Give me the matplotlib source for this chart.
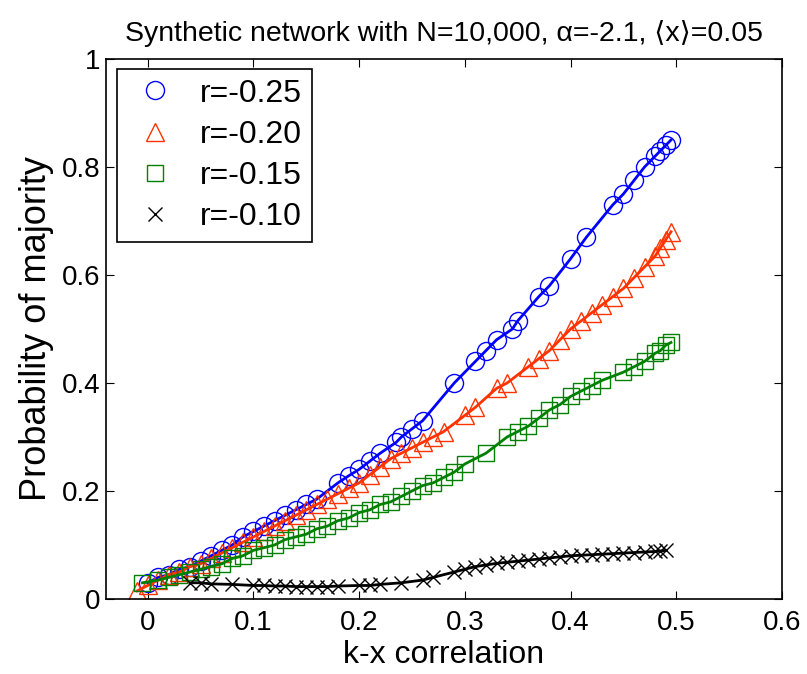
import numpy as np
from matplotlib import pyplot as plt

plt.rcParams['font.family'] = ['Liberation Sans', 'DejaVu Sans']

# r = -0.25
blue_x = [0.0, 0.01, 0.02, 0.03, 0.04, 0.05, 0.06, 0.07, 0.08, 0.09, 0.10, 0.11, 0.12, 0.13,
          0.14, 0.15, 0.16, 0.18, 0.19, 0.20, 0.21, 0.22, 0.235, 0.24, 0.25, 0.26, 0.29, 0.31,
          0.32, 0.33, 0.345, 0.35, 0.37, 0.38, 0.40, 0.415, 0.44, 0.45, 0.46, 0.47, 0.48,
          0.485, 0.49, 0.495]
blue_y = [0.03, 0.04, 0.045, 0.055, 0.06, 0.07, 0.08, 0.09, 0.10, 0.115, 0.125, 0.135, 0.145,
          0.155, 0.165, 0.175, 0.185, 0.215, 0.228, 0.24, 0.255, 0.27, 0.29, 0.30, 0.315, 0.33,
          0.40, 0.44, 0.46, 0.48, 0.50, 0.515, 0.56, 0.58, 0.63, 0.67, 0.73, 0.75, 0.775, 0.80,
          0.82, 0.83, 0.84, 0.85]

# r = -0.20
red_x = [-0.01, 0.0, 0.01, 0.02, 0.03, 0.04, 0.05, 0.06, 0.07, 0.08, 0.09, 0.10, 0.11, 0.12,
         0.13, 0.14, 0.15, 0.16, 0.17, 0.18, 0.19, 0.2, 0.21, 0.22, 0.23, 0.24, 0.25, 0.26,
         0.27, 0.28, 0.30, 0.31, 0.33, 0.34, 0.36, 0.37, 0.38, 0.39, 0.40, 0.41, 0.42, 0.43,
         0.44, 0.45, 0.46, 0.47, 0.48, 0.485, 0.49, 0.495]
red_y = [0.015, 0.025, 0.035, 0.045, 0.05, 0.06, 0.065, 0.075, 0.085, 0.095, 0.105, 0.115,
         0.125, 0.135, 0.145, 0.155, 0.165, 0.175, 0.185, 0.195, 0.205, 0.215, 0.23, 0.245,
         0.26, 0.27, 0.28, 0.29, 0.30, 0.31, 0.34, 0.355, 0.39, 0.40, 0.43, 0.445, 0.46, 0.48,
         0.50, 0.515, 0.53, 0.545, 0.56, 0.575, 0.595, 0.615, 0.635, 0.65, 0.665, 0.68]

# r = -0.15
green_x = [-0.005, 0.01, 0.02, 0.03, 0.04, 0.05, 0.06, 0.07, 0.08, 0.09, 0.10, 0.11, 0.12,
           0.13, 0.14, 0.15, 0.16, 0.17, 0.18, 0.19, 0.20, 0.21, 0.22, 0.23, 0.24, 0.25, 0.26,
           0.27, 0.28, 0.29, 0.30, 0.32, 0.34, 0.35, 0.36, 0.37, 0.38, 0.39, 0.40, 0.41, 0.42,
           0.43, 0.45, 0.46, 0.47, 0.48, 0.485, 0.49, 0.495]
green_y = [0.03, 0.035, 0.04, 0.045, 0.05, 0.055, 0.06, 0.065, 0.075, 0.08, 0.09, 0.095, 0.10,
           0.11, 0.115, 0.12, 0.13, 0.135, 0.145, 0.15, 0.16, 0.165, 0.175, 0.18, 0.19, 0.20,
           0.21, 0.215, 0.225, 0.235, 0.25, 0.27, 0.30, 0.31, 0.32, 0.335, 0.35, 0.36, 0.375,
           0.385, 0.395, 0.405, 0.42, 0.43, 0.44, 0.455, 0.46, 0.47, 0.475]

# r = -0.10
black_x = [0.04, 0.05, 0.06, 0.08, 0.10, 0.11, 0.12, 0.13, 0.14, 0.15, 0.16, 0.17, 0.18, 0.20,
           0.21, 0.22, 0.24, 0.26, 0.27, 0.29, 0.30, 0.31, 0.32, 0.33, 0.34, 0.35, 0.36, 0.37,
           0.38, 0.39, 0.40, 0.41, 0.42, 0.43, 0.44, 0.45, 0.46, 0.47, 0.48, 0.485, 0.49]
black_y = [0.03, 0.03, 0.028, 0.027, 0.025, 0.025, 0.024, 0.024, 0.023, 0.023, 0.023, 0.023,
           0.024, 0.025, 0.025, 0.027, 0.03, 0.035, 0.04, 0.05, 0.055, 0.06, 0.063, 0.066,
           0.068, 0.07, 0.072, 0.074, 0.076, 0.078, 0.08, 0.081, 0.082, 0.083, 0.084, 0.085,
           0.086, 0.087, 0.088, 0.089, 0.09]

series = [
    (blue_x, blue_y, '#0000ff', 'o', 13, 'r=-0.25'),
    (red_x, red_y, '#ff3300', '^', 13, 'r=-0.20'),
    (green_x, green_y, '#008000', 's', 11, 'r=-0.15'),
    (black_x, black_y, '#000000', 'x', 10, 'r=-0.10'),
]

fig = plt.figure(figsize=(8.07, 6.74), dpi=100)
ax = fig.add_axes([0.1314, 0.1113, 0.8376, 0.8012])

handles = []
for x, y, c, m, ms, lab in series:
    ax.plot(x, y, '-', color=c, lw=2)
    h, = ax.plot(x, y, m, color=c, ms=ms, mfc='none', mew=1, label=lab)
    handles.append(h)

ax.set_xlim(-0.0394, 0.6)
ax.set_ylim(0, 1)
ax.set_xticks(np.arange(0, 0.61, 0.1))
ax.set_xticklabels(['0', '0.1', '0.2', '0.3', '0.4', '0.5', '0.6'])
ax.set_yticks(np.arange(0, 1.01, 0.2))
ax.set_yticklabels(['0', '0.2', '0.4', '0.6', '0.8', '1'])
ax.tick_params(direction='in', top=True, right=True, labelsize=20, length=6)
ax.tick_params(axis='x', pad=8)
ax.tick_params(axis='y', pad=4)
for s in ax.spines.values():
    s.set_linewidth(1.2)

ax.set_xlabel('k-x correlation', fontsize=23, labelpad=3)
ax.set_ylabel('Probability of majority', fontsize=26, labelpad=6)
ax.set_title('Synthetic network with N=10,000, \u03b1=-2.1, \u27e8x\u27e9=0.05', fontsize=20.5, pad=13)

leg = ax.legend(handles=handles, loc='upper left', fontsize=23, fancybox=False,
                edgecolor='black', framealpha=1, handletextpad=0.5, borderpad=0.3,
                labelspacing=0.35, handlelength=1.8, borderaxespad=0,
                bbox_to_anchor=(0.0163, 0.9815))
leg.get_frame().set_linewidth(1.2)

fig.savefig('out.png', dpi=100)
